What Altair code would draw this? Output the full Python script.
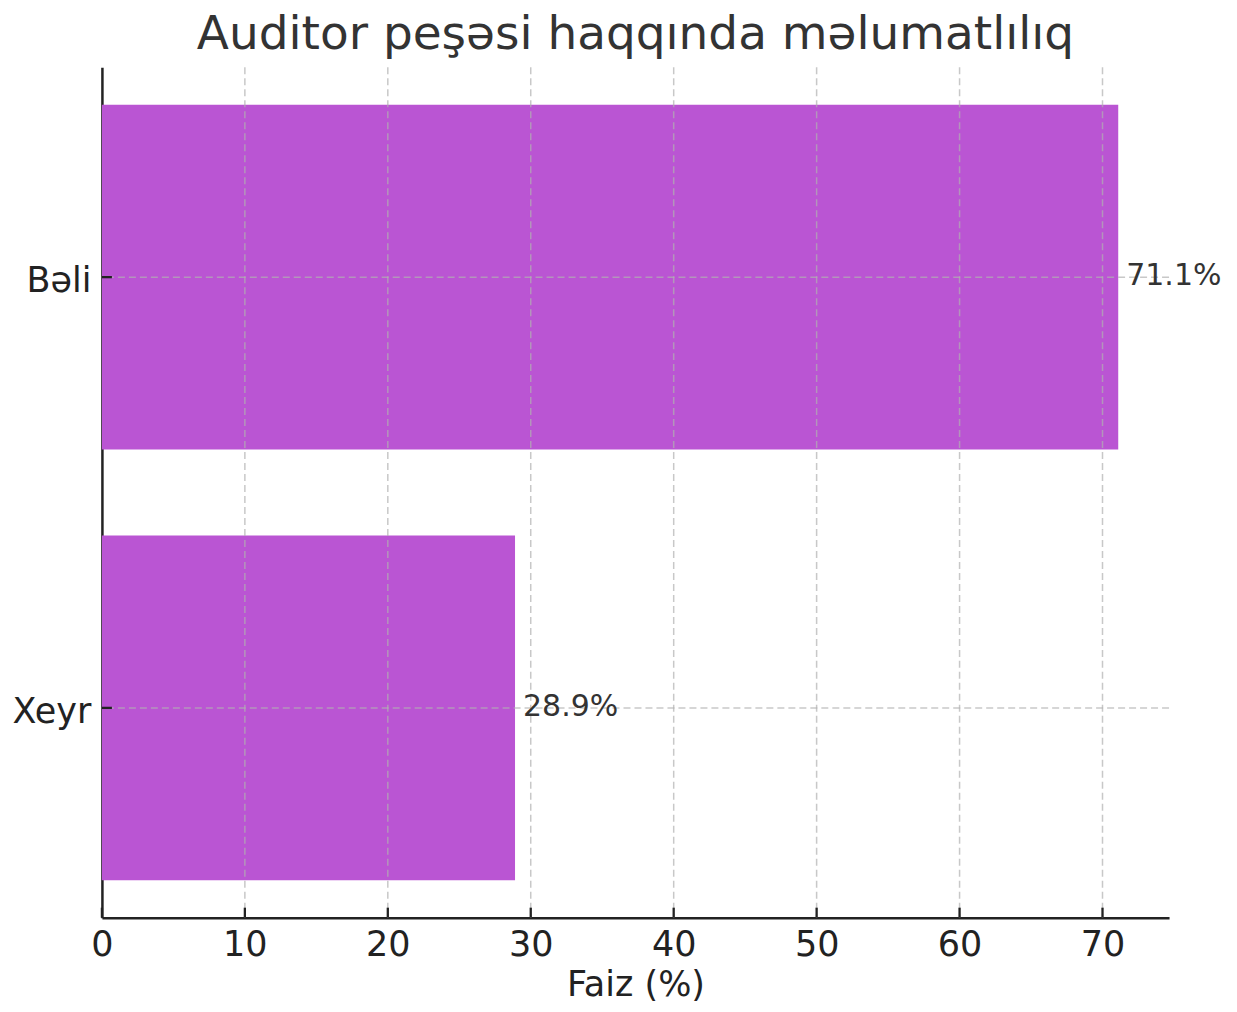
import altair as alt
import pandas as pd

categories = ["Bəli", "Xeyr"]
values = [71.1, 28.9]
labels = ["71.1%", "28.9%"]
x_ticks = [0, 10, 20, 30, 40, 50, 60, 70]
x_max = 74.655

df = pd.DataFrame({"cat": categories, "v": values, "lab": labels})
ticks_df = pd.DataFrame({"v": x_ticks})

W, H = 1068, 851
FONT = "DejaVu Sans"
xscale = alt.Scale(domain=[0, x_max], nice=False, zero=True)
yscale = alt.Scale(domain=categories, paddingInner=0.2, paddingOuter=0.087)

bars = alt.Chart(df).mark_bar(color="#BA55D3").encode(
    x=alt.X("v:Q", scale=xscale, title="Faiz (%)",
            axis=alt.Axis(values=x_ticks, grid=False, ticks=False, tickSize=0,
                          labelPadding=10, labelBaseline="top", labelFontSize=35,
                          labelFlush=False,
                          labelFont=FONT, labelColor="#222222",
                          domainColor="#222222", domainWidth=2.5,
                          title="Faiz (%)", titleFont=FONT, titleFontSize=35,
                          titleFontWeight="normal", titleColor="#222222",
                          titleBaseline="alphabetic", titleY=78)),
    y=alt.Y("cat:N", scale=yscale, sort=categories, title=None,
            axis=alt.Axis(grid=False, ticks=False, tickSize=0, labelPadding=11,
                          labelBaseline="alphabetic", labelOffset=15,
                          labelFontSize=35, labelFont=FONT, labelColor="#222222",
                          domainColor="#222222", domainWidth=2.5, title=None)),
)

xgrid = alt.Chart(ticks_df).transform_filter("datum.v > 0").mark_rule(
    color="#b0b0b0", opacity=0.7, strokeWidth=1.5, strokeDash=[7, 4]
).encode(x=alt.X("v:Q", scale=xscale, title="Faiz (%)"))

ygrid = alt.Chart(df).mark_rule(
    color="#b0b0b0", opacity=0.7, strokeWidth=1.5, strokeDash=[7, 4]
).encode(y=alt.Y("cat:N", scale=yscale, sort=categories, title=None))

xtick_marks = alt.Chart(ticks_df).mark_rule(color="#222222", strokeWidth=2.3).encode(
    x=alt.X("v:Q", scale=xscale, title="Faiz (%)"),
    y=alt.value(H), y2=alt.value(H - 10),
)

ytick_marks = alt.Chart(df).mark_rule(color="#222222", strokeWidth=2.3).encode(
    y=alt.Y("cat:N", scale=yscale, sort=categories, title=None),
    x=alt.value(0), x2=alt.value(10),
)

text = alt.Chart(df).mark_text(
    align="left", baseline="alphabetic", dx=8, dy=8,
    font=FONT, fontSize=30, color="#333333"
).encode(
    x=alt.X("v:Q", scale=xscale, title="Faiz (%)"),
    y=alt.Y("cat:N", scale=yscale, sort=categories, title=None),
    text="lab:N",
)

chart = alt.layer(bars, xgrid, ygrid, xtick_marks, ytick_marks, text).properties(
    width=W, height=H, background="white",
    title=alt.TitleParams("Auditor peşəsi haqqında məlumatlılıq", font=FONT,
                          fontSize=47, fontWeight="normal", color="#333333",
                          anchor="middle", baseline="alphabetic", offset=0,
                          frame="group", dy=29),
    autosize=alt.AutoSizeParams(type="none"),
    padding={"left": 94, "top": 59, "right": 60, "bottom": 86},
).configure_view(stroke=None)

chart.save("out.html", embed_options={"renderer": "svg", "actions": False})
